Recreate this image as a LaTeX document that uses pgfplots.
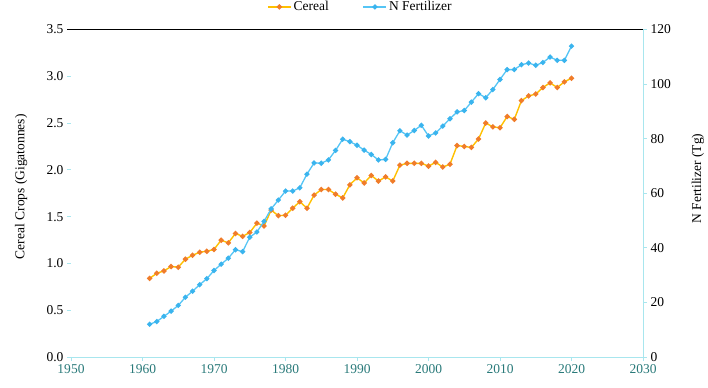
\documentclass[border=0pt]{standalone}
\usepackage{fontspec}
\setmainfont{Liberation Serif}
\usepackage{pgfplots}
\pgfplotsset{compat=1.18}
\definecolor{cerline}{HTML}{FFC000}
\definecolor{cermark}{HTML}{F07C2A}
\definecolor{nline}{HTML}{55C5F5}
\definecolor{nmark}{HTML}{3AB4EE}
\definecolor{axcyan}{HTML}{A8E6EE}
\definecolor{tealtxt}{HTML}{2A7A7A}
\begin{document}
\begin{tikzpicture}[font=\fontsize{13.5bp}{16bp}\selectfont]
\pgfplotsset{
  common/.style={
    width=572bp, height=327.5bp, scale only axis,
    xmin=1950, xmax=2030,
    /pgf/number format/assume math mode=true,
    tick align=outside, major tick length=4bp,
    tick style={axcyan, line width=0.8bp},
    axis line style={axcyan, line width=0.8bp},
    clip=false,
  }
}
\begin{axis}[common, name=ax,
  axis x line*=bottom, axis y line*=left,
  y axis line style={draw=none},
  ymin=0, ymax=3.5,
  ytick={0,0.5,...,3.0},
  extra y ticks={3.5},
  extra y tick labels={3.5},
  extra y tick style={grid=major, major grid style={black, line width=1.2bp}, tick style={black, line width=1.2bp}},
  yticklabel style={text=black, /pgf/number format/.cd, fixed, fixed zerofill, precision=1},
  xtick={1950,1960,...,2030},
  xticklabel style={text=tealtxt, /pgf/number format/.cd, 1000 sep={}},
  every axis y label/.style={at={(axis description cs:-0.087,0.52)}, rotate=90, anchor=center},
  ylabel={Cereal Crops (Gigatonnes)},
  legend style={draw=none, fill=none, at={(axis description cs:0.506,1.069)}, anchor=center,
    legend columns=2, /tikz/every even column/.append style={column sep=32bp},
    font=\fontsize{13.5bp}{16bp}\selectfont},
  legend image code/.code={\draw[mark repeat=2,mark phase=2] plot coordinates {(0bp,0bp)(11.5bp,0bp)(23bp,0bp)};},
]
\addplot[cerline, line width=1.4bp, mark=*, mark size=1.9bp, mark options={draw=cermark, fill=cermark}] coordinates {
(1961,0.84)(1962,0.895)(1963,0.92)(1964,0.967)(1965,0.96)(1966,1.045)(1967,1.087)(1968,1.12)(1969,1.13)(1970,1.15)
(1971,1.248)(1972,1.22)(1973,1.32)(1974,1.29)(1975,1.33)(1976,1.43)(1977,1.40)(1978,1.57)(1979,1.51)(1980,1.515)
(1981,1.59)(1982,1.66)(1983,1.59)(1984,1.73)(1985,1.79)(1986,1.79)(1987,1.74)(1988,1.70)(1989,1.84)(1990,1.915)
(1991,1.86)(1992,1.94)(1993,1.88)(1994,1.925)(1995,1.88)(1996,2.05)(1997,2.07)(1998,2.07)(1999,2.07)(2000,2.04)
(2001,2.08)(2002,2.03)(2003,2.06)(2004,2.26)(2005,2.25)(2006,2.24)(2007,2.33)(2008,2.50)(2009,2.46)(2010,2.45)
(2011,2.57)(2012,2.54)(2013,2.74)(2014,2.79)(2015,2.81)(2016,2.88)(2017,2.93)(2018,2.88)(2019,2.94)(2020,2.98)
};
\addlegendentry{Cereal}
\addlegendimage{nline, line width=1.3bp, mark=*, mark size=1.9bp, mark options={draw=nmark, fill=nmark}}
\addlegendentry{N Fertilizer}
\end{axis}
\begin{axis}[common,
  axis x line=none, axis y line*=right,
  ymin=0, ymax=120, ytick={0,20,...,120},
  yticklabel style={text=black},
  every axis y label/.style={at={(axis description cs:1.096,0.545)}, rotate=90, anchor=center},
  ylabel={N Fertilizer (Tg)},
]
\addplot[nline, line width=1.3bp, mark=*, mark size=1.9bp, mark options={draw=nmark, fill=nmark}] coordinates {
(1961,12.0)(1962,13.0)(1963,14.9)(1964,16.8)(1965,18.9)(1966,21.9)(1967,24.1)(1968,26.5)(1969,28.7)(1970,31.7)
(1971,34.0)(1972,36.2)(1973,39.3)(1974,38.6)(1975,43.9)(1976,45.8)(1977,49.7)(1978,54.3)(1979,57.5)(1980,60.8)
(1981,60.8)(1982,62.0)(1983,67.0)(1984,71.1)(1985,71.0)(1986,72.2)(1987,75.7)(1988,79.8)(1989,78.9)(1990,77.6)
(1991,75.8)(1992,74.2)(1993,72.2)(1994,72.4)(1995,78.5)(1996,82.9)(1997,81.3)(1998,83.0)(1999,84.9)(2000,81.0)
(2001,82.1)(2002,84.6)(2003,87.3)(2004,89.8)(2005,90.3)(2006,93.4)(2007,96.5)(2008,95.0)(2009,98.0)(2010,101.7)
(2011,105.3)(2012,105.3)(2013,107.1)(2014,107.7)(2015,106.9)(2016,107.9)(2017,109.9)(2018,108.7)(2019,108.7)(2020,113.9)
};
\end{axis}
\pgfresetboundingbox
\path ([shift={(-71bp,-30.5bp)}]ax.south west) rectangle ([shift={(65bp,29.5bp)}]ax.north east);
\end{tikzpicture}
\end{document}
